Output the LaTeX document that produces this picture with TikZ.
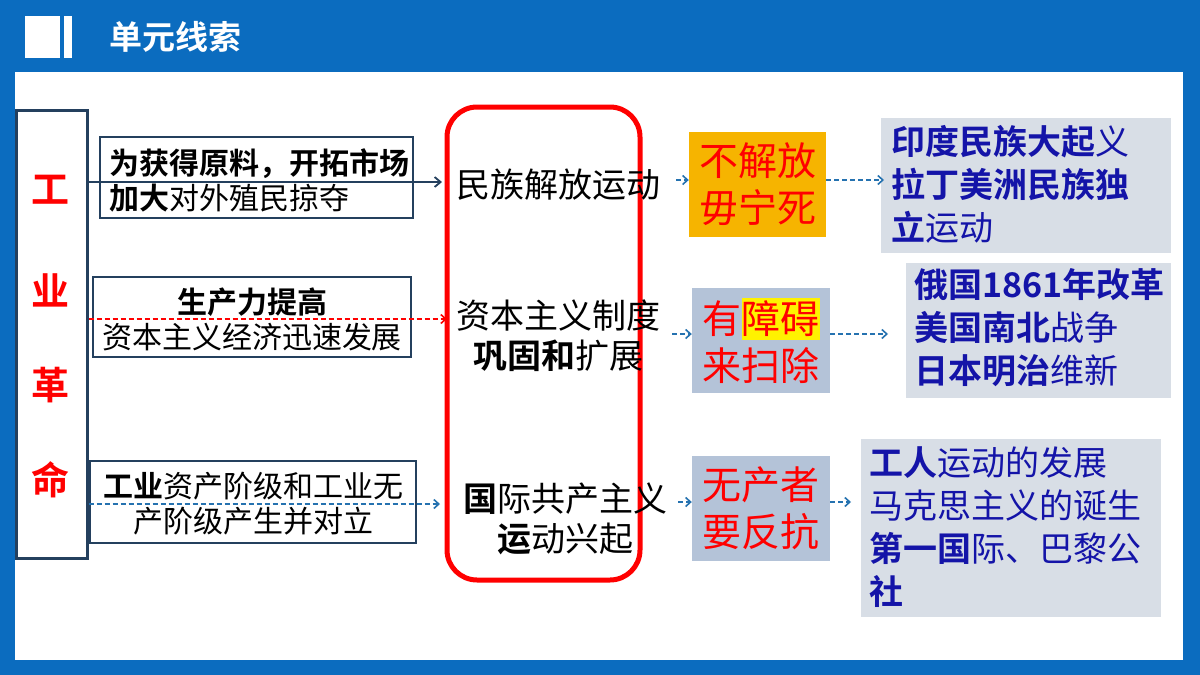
\documentclass[tikz,border=0pt]{standalone}
\usepackage{fontspec}
\setmainfont{Noto Sans CJK SC}
\newfontfamily\cjkb{Noto Sans CJK SC Bold}
\usetikzlibrary{arrows.meta}
\definecolor{frameblue}{HTML}{0B6CBF}
\definecolor{darkb}{HTML}{24405E}
\definecolor{tblue}{HTML}{1414A8}
\definecolor{grayb}{HTML}{D8DEE6}
\definecolor{midb}{HTML}{B4C3D8}
\definecolor{orangeb}{HTML}{F6B400}
\definecolor{arrowb}{HTML}{2572B0}
\tikzset{x=1pt,y=-1pt,
 txtbox/.style={draw=darkb,line width=2.2pt,fill=white},
 dsh/.style={draw=arrowb,line width=1.6pt,dash pattern=on 5pt off 3pt,-{Straight Barb[length=5pt,width=9pt]}},
 big/.style={font=\fontsize{34}{40}\selectfont},
 slog/.style={font=\fontsize{39}{47}\selectfont},
 mid/.style={font=\fontsize{30}{35}\selectfont},
 rt/.style={font=\fontsize{34}{43}\selectfont,text=tblue,align=left,anchor=north west,inner sep=0pt}}
\begin{document}
\begin{tikzpicture}
\useasboundingbox (0,0) rectangle (1200,675);
\fill[frameblue] (0,0) rectangle (1200,675);
\fill[white] (15,72) rectangle (1183,660);
\fill[white] (25,16) rectangle (60,58);
\fill[white] (64,16) rectangle (72,58);
\node[anchor=west,text=white,font=\fontsize{33}{35}\selectfont\cjkb] (title) at (106,37) {单元线索};
% left box
\node[draw=darkb,line width=3pt,minimum width=71pt,minimum height=448pt,inner sep=0pt] (ir) at (51.5,334) {};
\foreach \c/\y in {工/190,业/290,革/385,命/480}
  \node[text=red,font=\fontsize{38}{40}\selectfont\cjkb] at (50,\y) {\c};
% cause boxes
\node[txtbox,minimum width=313pt,minimum height=81pt] (b1) at (256.5,177.5) {};
\node[anchor=west,mid,align=left,text=black,inner sep=0pt] at (109,180) {{\cjkb 为获得原料，开拓市场}\\{\cjkb 加大}对外殖民掠夺};
\node[txtbox,minimum width=318pt,minimum height=80pt] (b2) at (252,317) {};
\node[mid,align=center,inner sep=0pt] at (252,319) {{\cjkb 生产力提高}\\资本主义经济迅速发展};
\node[txtbox,minimum width=326pt,minimum height=82pt] (b3) at (253,502) {};
\node[mid,align=center,inner sep=0pt] at (253,504) {{\cjkb 工业}资产阶级和工业无\\产阶级产生并对立};
% red rounded
\node[draw=red,line width=5pt,rounded corners=30pt,minimum width=193pt,minimum height=473pt] (mid) at (543.5,343.5) {};
\node[big,inner sep=0pt] (m1) at (558,185) {民族解放运动};
\node[big,align=center,inner sep=0pt] (m2) at (558,336) {资本主义制度\\{\cjkb 巩固和}扩展};
\node[big,align=center,inner sep=0pt] (m3) at (565,519) {{\cjkb 国}际共产主义\\{\cjkb 运}动兴起};
\coordinate (a1) at (442,182);
\coordinate (a2) at (447,319);
\coordinate (a3) at (440,504);
\draw[darkb,line width=1.8pt,-{Straight Barb[length=6pt,width=10pt]}] (ir.east|-a1) -- (a1);
\draw[dsh,draw=red] (ir.east|-a2) -- (a2);
\draw[dsh] (ir.east|-a3) -- (a3);
% slogan boxes
\node[fill=orangeb,minimum width=137pt,minimum height=105pt,text=red,slog,align=center,inner sep=0pt] (s1) at (757.5,184.5) {不解放\\毋宁死};
\node[fill=midb,minimum width=138pt,minimum height=105pt,text=red,slog,align=center,inner sep=0pt] (s2) at (761,340.5) {有\colorbox{yellow}{\hspace{-3pt}障碍\hspace{-3pt}}\\来扫除};
\node[fill=midb,minimum width=138pt,minimum height=105pt,text=red,slog,align=center,inner sep=0pt] (s3) at (761,508.5) {无产者\\要反抗};
% result boxes
\node[fill=grayb,minimum width=290pt,minimum height=135pt] (r1) at (1026,185.5) {};
\node[fill=grayb,minimum width=265pt,minimum height=135pt] (r2) at (1038.5,330.5) {};
\node[fill=grayb,minimum width=300pt,minimum height=178pt] (r3) at (1011,528) {};
\node[rt] at (891,125) {{\cjkb 印度民族大起}义\\{\cjkb 拉丁美洲民族独}\\{\cjkb 立}运动};
\node[rt] at (914,268) {{\cjkb 俄国1861年改革}\\{\cjkb 美国南北}战争\\{\cjkb 日本明治}维新};
\node[rt] at (869,446) {{\cjkb 工人}运动的发展\\马克思主义的诞生\\{\cjkb 第一国}际、巴黎公\\{\cjkb 社}};
% arrows
\draw[dsh] (676,180) -- (s1.west|-0,180);
\draw[dsh] (s1.east|-0,180) -- (884,180);
\draw[dsh] (672,334) -- (s2.west|-0,334);
\draw[dsh] (s2.east|-0,334) -- (888,334);
\draw[dsh] (678,502) -- (s3.west|-0,502);
\draw[dsh] (s3.east|-0,502) -- (851,502);
\end{tikzpicture}
\end{document}
